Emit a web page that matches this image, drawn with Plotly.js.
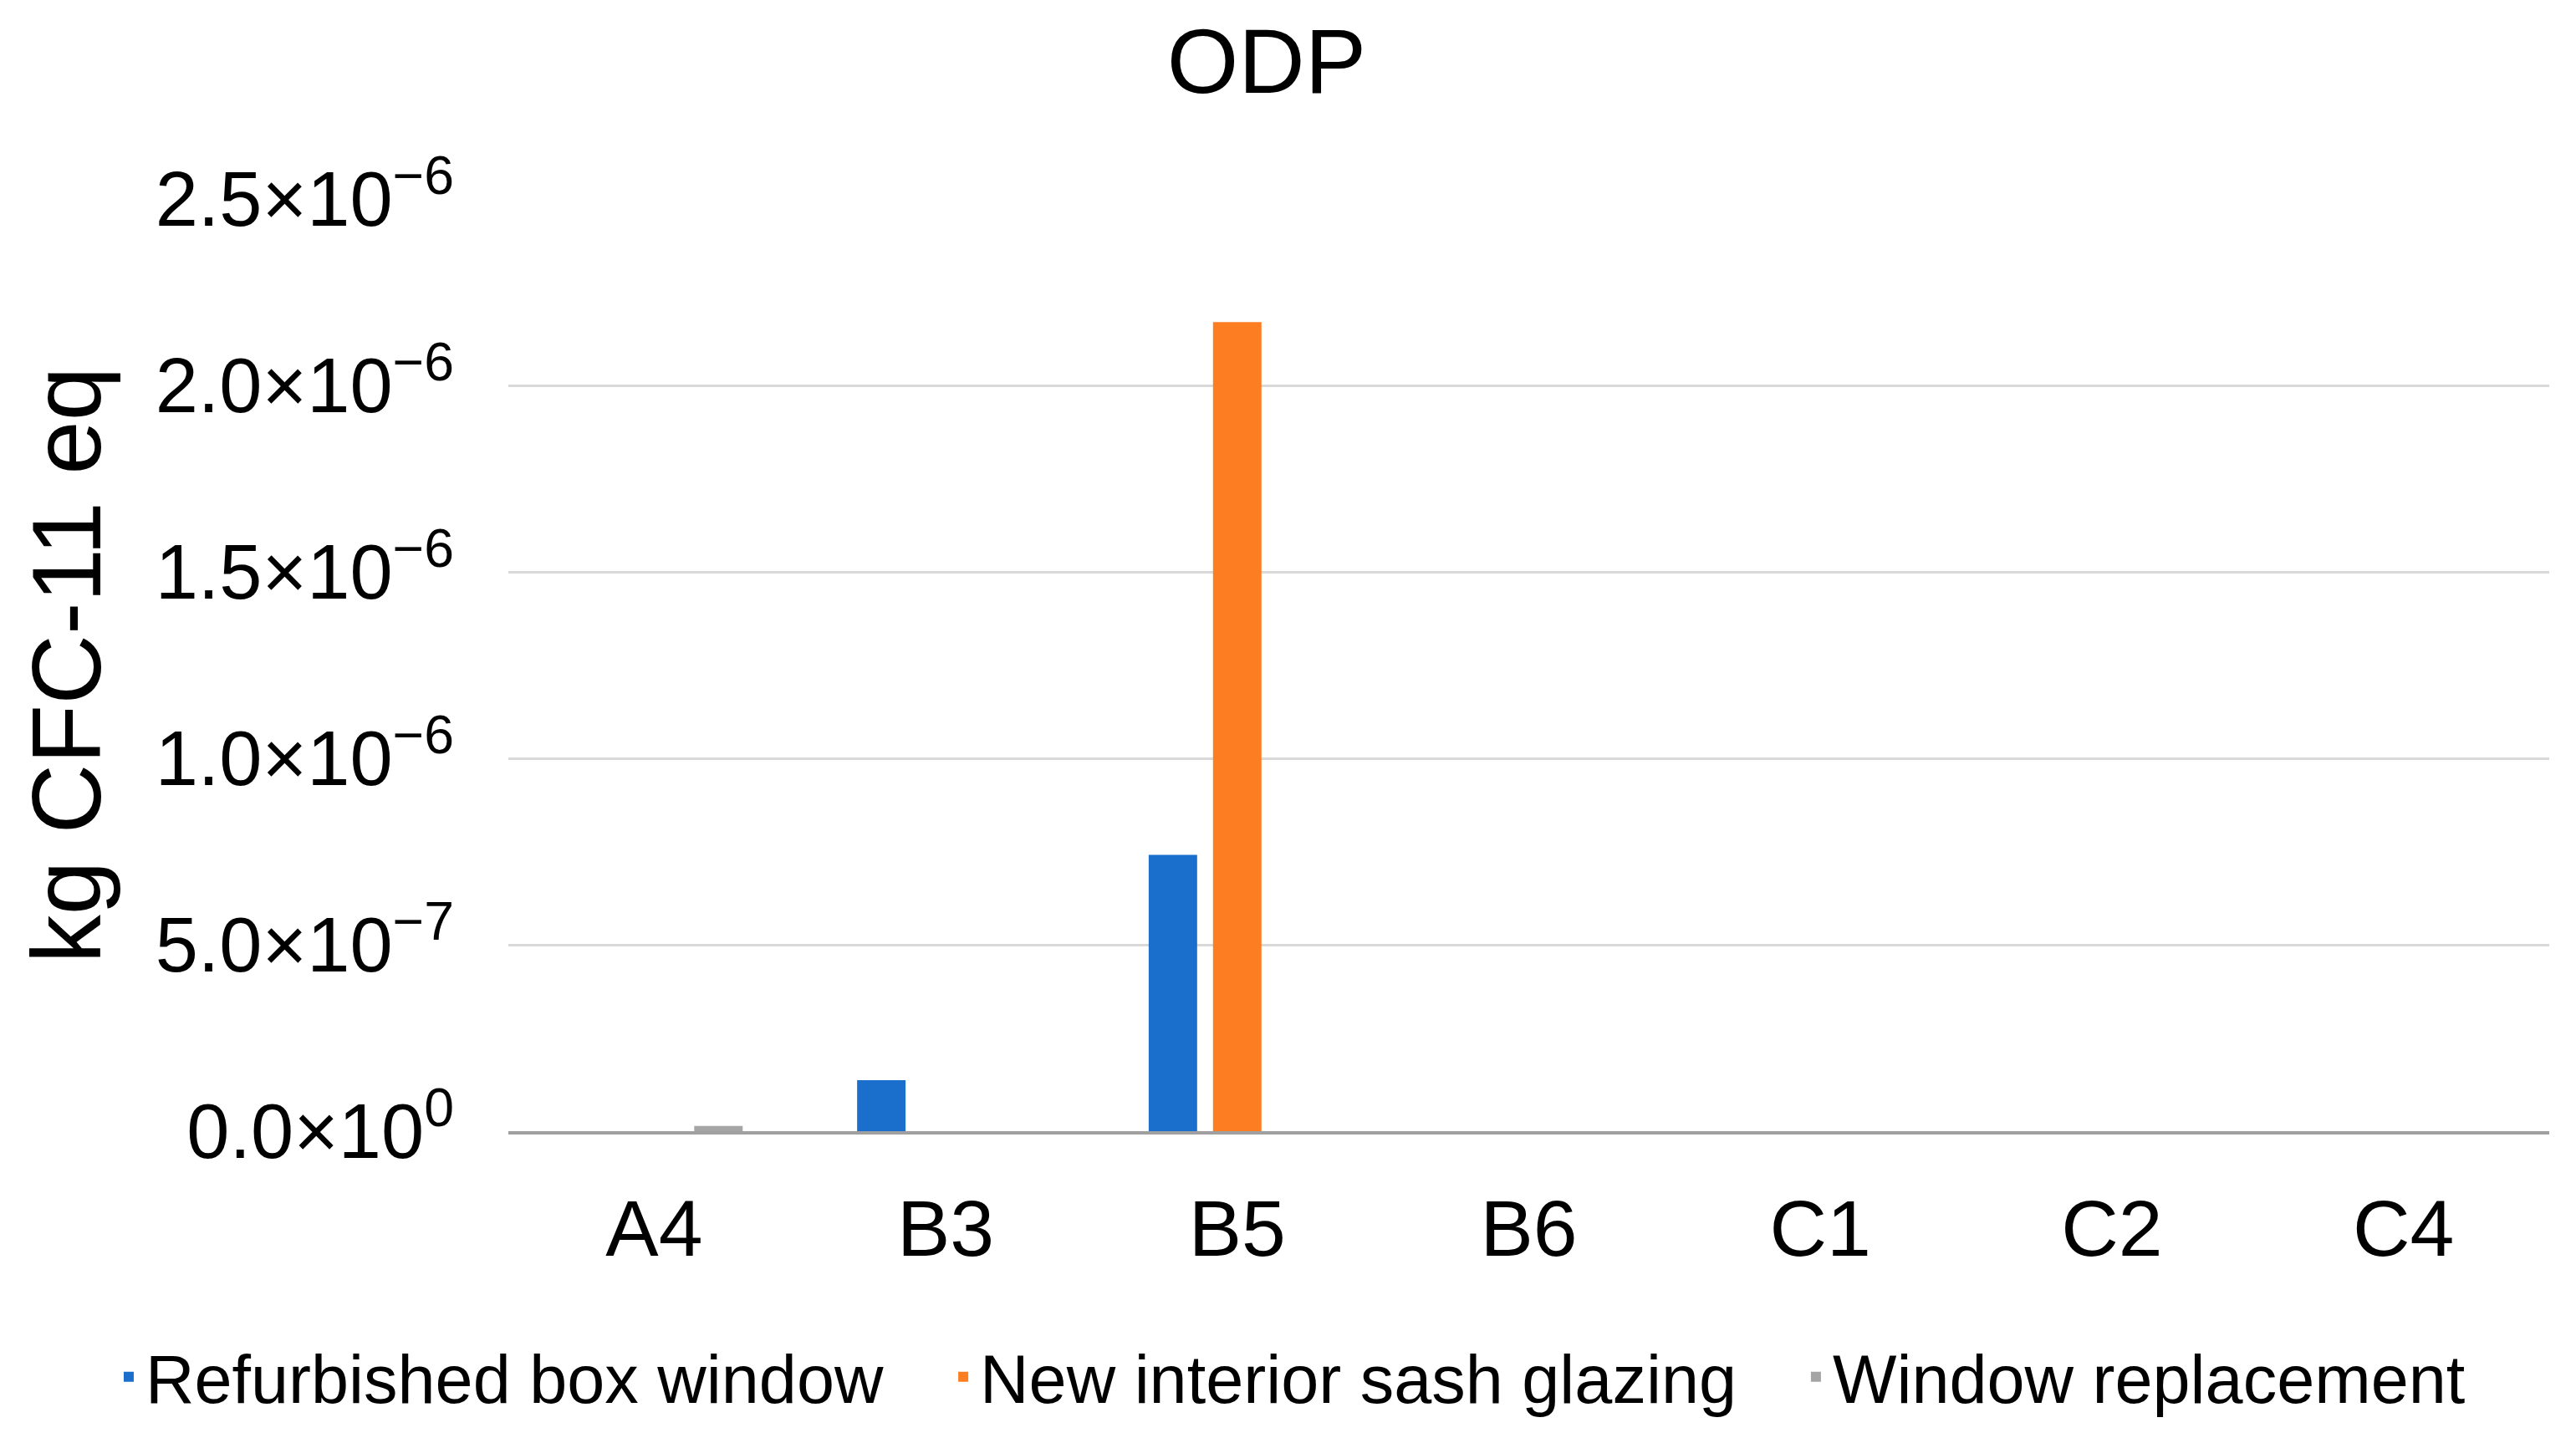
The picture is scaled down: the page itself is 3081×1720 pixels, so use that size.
<!DOCTYPE html>
<html>
<head>
<meta charset="utf-8">
<script src="https://cdn.plot.ly/plotly-3.0.1.min.js"></script>
<style>html,body{margin:0;padding:0;background:#fff;}#chart{width:3081px;height:1720px;}</style>
</head>
<body>
<div id="chart"></div>
<script>
// Data
const categories = ["A4", "B3", "B5", "B6", "C1", "C2", "C4"];
const refurbishedBoxWindow = [0, 1.37e-7, 7.41e-7, 0, 0, 0, 0];
const newInteriorSashGlazing = [0, 0, 2.17e-6, 0, 0, 0, 0];
const windowReplacement = [1.4e-8, 0, 0, 0, 0, 0, 0];
const seriesNames = ["Refurbished box window", "New interior sash glazing", "Window replacement"];
const yTickValues = [0, 5e-7, 1e-6, 1.5e-6, 2e-6, 2.5e-6];
const yTickLabels = ["0.0×10<sup>0</sup>", "5.0×10<sup>−7</sup>", "1.0×10<sup>−6</sup>", "1.5×10<sup>−6</sup>", "2.0×10<sup>−6</sup>", "2.5×10<sup>−6</sup>"];
const gridValues = [5e-7, 1e-6, 1.5e-6, 2e-6];

const FONT = "Liberation Sans, Arial, Helvetica, sans-serif";
const colors = ["#1a6fcc", "#fd7e22", "#a5a5a5"];
const seriesData = [refurbishedBoxWindow, newInteriorSashGlazing, windowReplacement];
const legendIds = ["legend", "legend2", "legend3"];
const legendX = [-0.1942, 0.2147, 0.6325];

const traces = seriesData.map((vals, i) => ({
  type: "bar",
  name: seriesNames[i],
  x: categories,
  y: vals,
  legend: legendIds[i],
  marker: {color: colors[i], line: {width: 0}},
  hoverinfo: "x+y+name"
}));

// invisible trace hosting the grid-only axis
traces.push({
  type: "scatter", mode: "markers", x: [categories[0]], y: [0],
  yaxis: "y2", marker: {opacity: 0}, showlegend: false, hoverinfo: "skip"
});

const layout = {
  width: 3081,
  height: 1720,
  paper_bgcolor: "#ffffff",
  plot_bgcolor: "#ffffff",
  font: {family: FONT, color: "#000000", size: 88},
  margin: {l: 608, r: 32, t: 238, b: 367, autoexpand: false},
  title: {
    text: "ODP",
    font: {family: FONT, size: 110, color: "#000000"},
    x: 0.4917, xref: "container", xanchor: "center",
    y: 1 - 72 / 1720, yref: "container", yanchor: "middle"
  },
  barmode: "group",
  bargap: 0.338,
  bargroupgap: 0.247,
  xaxis: {
    type: "category",
    showgrid: false,
    showline: true,
    linecolor: "#a0a0a0",
    linewidth: 4,
    ticks: "",
    ticklabelstandoff: 31,
    tickfont: {family: FONT, size: 95, color: "#000000"},
    fixedrange: true
  },
  yaxis: {
    range: [0, 2.5e-6],
    tickmode: "array",
    tickvals: yTickValues,
    ticktext: yTickLabels,
    showgrid: false,
    zeroline: false,
    showline: false,
    ticks: "",
    ticklabelstandoff: 64,
    tickfont: {family: FONT, size: 92, color: "#000000"},
    title: {
      text: "kg CFC-11 eq",
      font: {family: FONT, size: 116, color: "#000000"},
      standoff: 26
    },
    automargin: false,
    fixedrange: true
  },
  yaxis2: {
    overlaying: "y",
    side: "left",
    range: [0, 2.5e-6],
    tickmode: "array",
    tickvals: gridValues,
    showticklabels: false,
    showgrid: true,
    gridcolor: "#d9d9d9",
    gridwidth: 3,
    zeroline: false,
    showline: false,
    ticks: "",
    fixedrange: true
  },
  showlegend: true
};

legendIds.forEach((id, i) => {
  layout[id] = {
    orientation: "h",
    x: legendX[i], xref: "paper", xanchor: "left",
    y: -0.2637, yref: "paper", yanchor: "middle",
    font: {family: FONT, size: 81, color: "#000000"},
    itemclick: false,
    itemdoubleclick: false
  };
});

Plotly.newPlot("chart", traces, layout, {displayModeBar: false, staticPlot: true});
</script>
</body>
</html>
